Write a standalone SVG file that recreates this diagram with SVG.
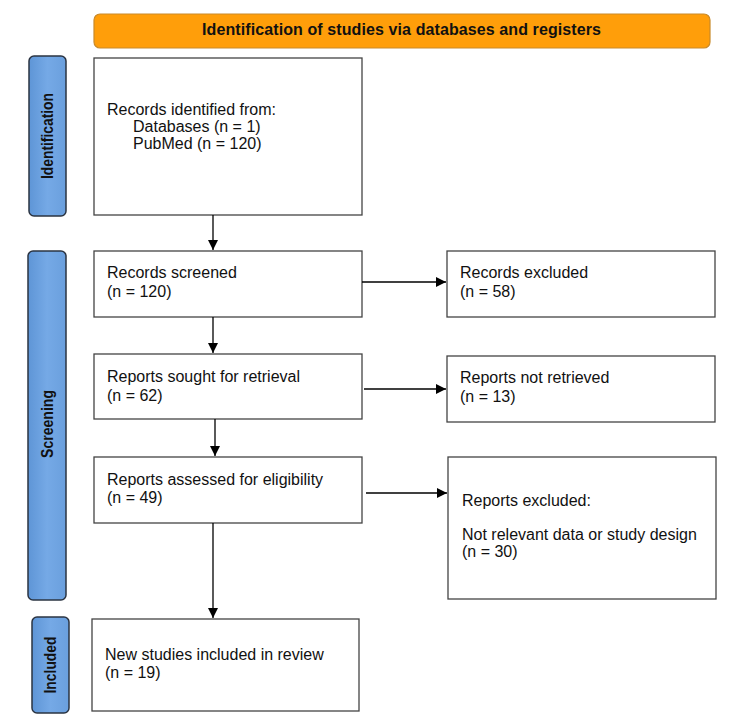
<svg xmlns="http://www.w3.org/2000/svg" width="750" height="725" viewBox="0 0 750 725">
<defs>
<linearGradient id="blueGrad" x1="0" y1="0" x2="1" y2="0">
<stop offset="0" stop-color="#5E95D6"/>
<stop offset="0.5" stop-color="#75A9E6"/>
<stop offset="1" stop-color="#6A9FDD"/>
</linearGradient>
<marker id="arrow" viewBox="0 0 10 10" refX="10" refY="5" markerWidth="10" markerHeight="10" markerUnits="userSpaceOnUse" orient="auto">
<path d="M0,0 L10,5 L0,10 z" fill="#000"/>
</marker>
<style>
.box{fill:#fff;stroke:#444;stroke-width:1.3}
.side{fill:url(#blueGrad);stroke:#2B3442;stroke-width:1.5}
.hdr{fill:#FF9E0A;stroke:#C98A2A;stroke-width:1.2}
.t{font-family:"Liberation Sans",Arial,sans-serif;font-size:16px;fill:#111}
.hb{font-family:"Liberation Sans",Arial,sans-serif;font-size:16px;font-weight:bold;fill:#111}
.sl{font-family:"Liberation Sans",Arial,sans-serif;font-size:17px;font-weight:bold;fill:#111;text-anchor:middle}
.c{stroke:#000;stroke-width:1.3;fill:none;marker-end:url(#arrow)}
</style>
</defs>
<rect width="750" height="725" fill="#fff"/>

<g id="header">
<rect class="hdr" x="94" y="14" width="616" height="34" rx="6"/>
<text class="hb" x="202" y="35" textLength="399" lengthAdjust="spacing">Identification  of studies via databases and registers</text>
</g>

<g id="side-identification">
<rect class="side" x="29" y="56" width="37" height="160" rx="5"/>
<text class="sl" transform="translate(53,136) rotate(-90)" textLength="86" lengthAdjust="spacingAndGlyphs">Identification</text>
</g>
<g id="side-screening">
<rect class="side" x="28" y="251" width="38" height="349" rx="5"/>
<text class="sl" transform="translate(53,424) rotate(-90)" textLength="68" lengthAdjust="spacingAndGlyphs">Screening</text>
</g>
<g id="side-included">
<rect class="side" x="32" y="617" width="37" height="96" rx="5"/>
<text class="sl" transform="translate(56,665) rotate(-90)" textLength="57" lengthAdjust="spacingAndGlyphs">Included</text>
</g>

<g id="records-identified">
<rect class="box" x="94" y="58" width="268" height="157"/>
<text class="t" x="107" y="115">Records identified from:</text>
<text class="t" x="133" y="132">Databases (n = 1)</text>
<text class="t" x="133" y="149">PubMed (n = 120)</text>
</g>

<g id="records-screened">
<rect class="box" x="94" y="251" width="268" height="66"/>
<text class="t" x="107" y="278">Records screened</text>
<text class="t" x="107" y="297">(n = 120)</text>
</g>

<g id="records-excluded">
<rect class="box" x="447" y="251" width="268" height="66"/>
<text class="t" x="460" y="278">Records excluded</text>
<text class="t" x="460" y="297">(n = 58)</text>
</g>

<g id="reports-sought">
<rect class="box" x="94" y="354" width="268" height="65"/>
<text class="t" x="107" y="382">Reports sought for retrieval</text>
<text class="t" x="107" y="401">(n = 62)</text>
</g>

<g id="reports-not-retrieved">
<rect class="box" x="447" y="356" width="268" height="66"/>
<text class="t" x="460" y="383">Reports not retrieved</text>
<text class="t" x="460" y="402">(n = 13)</text>
</g>

<g id="reports-assessed">
<rect class="box" x="94" y="457" width="268" height="66"/>
<text class="t" x="107" y="485">Reports assessed for eligibility</text>
<text class="t" x="107" y="503">(n = 49)</text>
</g>

<g id="reports-excluded">
<rect class="box" x="448" y="457" width="268" height="142"/>
<text class="t" x="462" y="506">Reports excluded:</text>
<text class="t" x="462" y="540">Not relevant data or study design</text>
<text class="t" x="462" y="557">(n = 30)</text>
</g>

<g id="new-studies">
<rect class="box" x="92" y="619" width="267" height="92"/>
<text class="t" x="105" y="660">New studies included in review</text>
<text class="t" x="105" y="678">(n = 19)</text>
</g>

<g id="connectors">
<line class="c" x1="213" y1="215" x2="213" y2="250"/>
<line class="c" x1="213" y1="317" x2="213" y2="353"/>
<line class="c" x1="215" y1="419" x2="215" y2="456"/>
<line class="c" x1="213" y1="523" x2="213" y2="618"/>
<line class="c" x1="362" y1="282" x2="446" y2="282"/>
<line class="c" x1="364" y1="389" x2="446" y2="389"/>
<line class="c" x1="366" y1="493" x2="447" y2="493"/>
</g>
</svg>
